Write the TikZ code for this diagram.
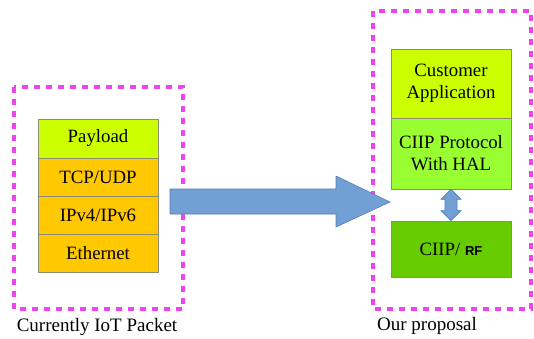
\documentclass[tikz,border=0pt]{standalone}
\usepackage{fontspec}
\setmainfont{Liberation Serif}
\newfontfamily\serifface{Liberation Serif}
\newfontfamily\rfsans{Liberation Sans}
\usetikzlibrary{calc}
\definecolor{magdash}{HTML}{EE44EE}
\definecolor{yellowgreen}{HTML}{CCFF00}
\definecolor{goldbox}{HTML}{FFC800}
\definecolor{lightgreen}{HTML}{99FF33}
\definecolor{midgreen}{HTML}{66CC00}
\definecolor{arrowblue}{HTML}{729FD4}
\definecolor{arrowedge}{HTML}{4F7FB8}
\definecolor{boxedge}{HTML}{8C8C70}
\tikzset{
  frame/.style={draw=magdash, line width=3.2pt, dash pattern=on 6pt off 6pt},
  layer/.style={draw=boxedge, line width=0.8pt, minimum width=120pt, inner sep=0pt, align=center, font=\serifface\fontsize{18.8}{22}\selectfont},
  caption/.style={font=\serifface\fontsize{19}{22}\selectfont, inner sep=0pt}
}
\begin{document}
\begin{tikzpicture}[x=1pt,y=-1pt]
\useasboundingbox (0,0) rectangle (534,338);
% frames
\draw[frame] (14,87) rectangle (183,309);
\draw[frame] (373,11) rectangle (531,309);
% left stack
\node[layer, fill=yellowgreen, minimum height=39pt] (pay) at (98,138.5) {Payload};
\node[layer, fill=goldbox, minimum height=38pt] (tcp) at (98,177) {TCP/UDP};
\node[layer, fill=goldbox, minimum height=38pt] (ip) at (98,215) {IPv4/IPv6};
\node[layer, fill=goldbox, minimum height=38pt] (eth) at (98,253) {Ethernet};
% right stack
\node[layer, fill=yellowgreen, minimum height=69pt] (cust) at (451,83.5) {Customer\\Application};
\node[layer, fill=lightgreen, minimum height=71pt] (ciip) at (451,153.5) {CIIP Protocol\\With HAL};
\node[layer, fill=midgreen, minimum height=56pt] (rf) at (451,249) {CIIP/ {\rfsans\bfseries\fontsize{13}{15}\selectfont RF}};
% big arrow
\coordinate (bigtip) at (390,202);
\draw[arrowedge, fill=arrowblue, line width=0.6pt]
  (170,189) -- (336,189) -- (336,176) -- (bigtip) -- (336,227) -- (336,214) -- (170,214) -- cycle;
% double arrow between ciip and rf
\draw[arrowedge, fill=arrowblue, line width=0.6pt]
  (ciip.south) -- ++(10,10) -- ++(-4,0) -- ($(rf.north)+(6,-10)$) -- ($(rf.north)+(10,-10)$) -- (rf.north)
  -- ($(rf.north)+(-10,-10)$) -- ($(rf.north)+(-6,-10)$) -- ($(ciip.south)+(-6,10)$) -- ($(ciip.south)+(-10,10)$) -- cycle;
% captions
\node[caption] (cap1) at (97,327) {Currently IoT Packet};
\node[caption] (cap2) at (427,326) {Our proposal};
\end{tikzpicture}
\end{document}
